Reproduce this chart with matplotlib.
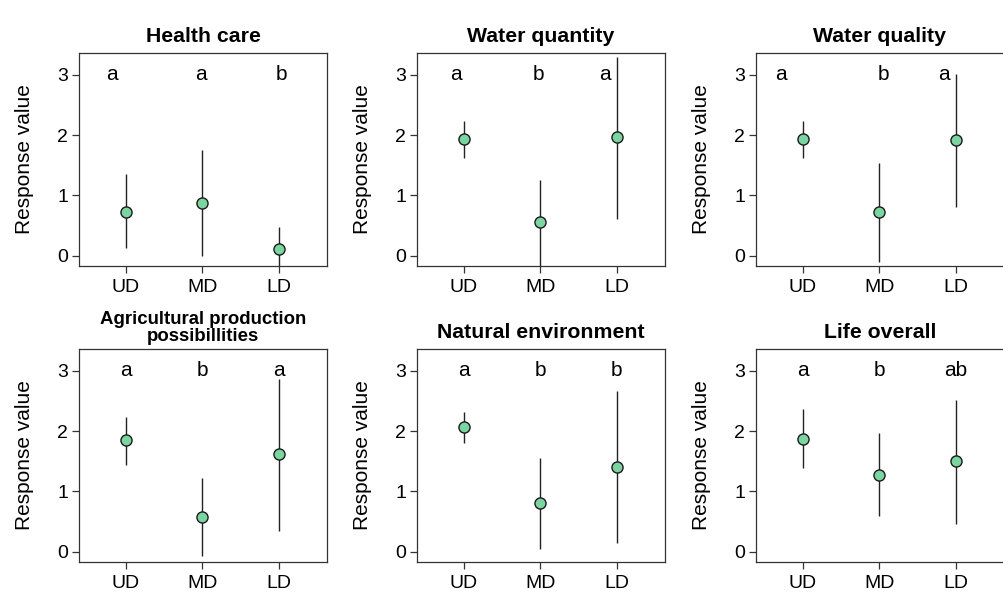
import numpy as np
import matplotlib.pyplot as plt

# Daten: Mittelwerte und Fehlerbalken (untere / obere Grenze) je Panel
titel = ["Health care", "Water quantity", "Water quality",
         "Agricultural production\npossibillities", "Natural environment", "Life overall"]
gruppen = ["UD", "MD", "LD"]

mittel = [
    [0.73, 0.88, 0.12],
    [1.93, 0.56, 1.96],
    [1.93, 0.73, 1.91],
    [1.86, 0.57, 1.62],
    [2.06, 0.80, 1.41],
    [1.87, 1.27, 1.50],
]
unten = [
    [0.13, 0.00, -0.30],
    [1.62, -0.30, 0.61],
    [1.62, -0.10, 0.80],
    [1.44, -0.07, 0.35],
    [1.81, 0.04, 0.14],
    [1.39, 0.59, 0.46],
]
oben = [
    [1.35, 1.75, 0.47],
    [2.24, 1.25, 3.29],
    [2.24, 1.53, 3.02],
    [2.24, 1.22, 2.86],
    [2.32, 1.56, 2.66],
    [2.36, 1.96, 2.52],
]
buchstaben = [
    ["a", "a", "b"],
    ["a", "b", "a"],
    ["a", "b", "a"],
    ["a", "b", "a"],
    ["a", "b", "b"],
    ["a", "b", "ab"],
]

# kleine Verschiebung der Buchstaben (damit sie nicht auf dem Balken liegen)
versatz = [
    [-0.18, -0.02, 0.03],
    [-0.10, -0.02, -0.16],
    [-0.28, 0.05, -0.16],
    [0, 0, 0],
    [0, 0, 0],
    [0, 0, 0],
]

plt.rcParams['font.family'] = ['Liberation Sans', 'DejaVu Sans']

fig = plt.figure(figsize=(10.04, 5.92), dpi=100)

links = [79 / 1004, 417 / 1004, 756 / 1004]
unten_pos = [1 - 266 / 592, 1 - 562 / 592]
breite = 248 / 1004
hoehe = 213 / 592

x = np.arange(1, 4)
for i in range(6):
    zeile, spalte = divmod(i, 3)
    ax = fig.add_axes([links[spalte], unten_pos[zeile], breite, hoehe])
    m = np.array(mittel[i])
    lo = np.array(unten[i])
    hi = np.array(oben[i])
    ax.vlines(x, lo, hi, color="#222222", lw=1.0, zorder=2)
    ax.plot(x, m, "o", ms=8, mfc="#7bd5a0", mec="#1a1a1a", mew=1.0, zorder=3)
    for j in range(3):
        ax.text(x[j] + versatz[i][j], 2.92, buchstaben[i][j], ha="center",
                va="baseline", fontsize=15)
    ax.set_xlim(0.39, 3.63)
    ax.set_ylim(-0.17, 3.36)
    ax.set_xticks(x)
    ax.set_xticklabels(gruppen)
    ax.set_yticks([0, 1, 2, 3])
    ax.tick_params(axis="both", length=5, width=0.9, color="#333333", labelsize=14)
    ax.tick_params(axis="x", pad=4)
    ax.tick_params(axis="y", pad=3)
    for s in ax.spines.values():
        s.set_color("#333333")
        s.set_linewidth(0.9)
    ax.set_ylabel("Response value", fontsize=15)
    ax.yaxis.set_label_coords(-0.18, 0.5)
    if i == 3:
        ax.set_title(titel[i], fontsize=13.4, fontweight="bold", pad=6, linespacing=0.95)
    else:
        ax.set_title(titel[i], fontsize=15.3, fontweight="bold", pad=8)

fig.savefig("out.png", dpi=100)
